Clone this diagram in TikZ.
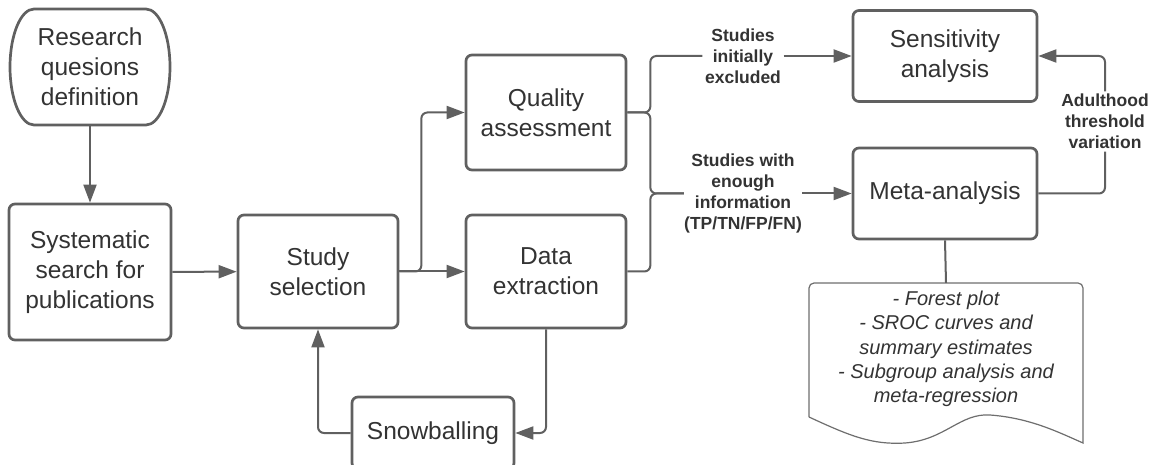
\documentclass[tikz,border=0pt]{standalone}
\usepackage{fontspec}
\setmainfont{Liberation Sans}
\usetikzlibrary{arrows.meta}
\definecolor{edge}{RGB}{96,96,96}
\definecolor{ink}{RGB}{51,51,51}
\definecolor{docedge}{RGB}{110,110,110}
\tikzset{
  box/.style={draw=edge, line width=2.7pt, rounded corners=6pt, fill=white,
    text=ink, align=center, inner sep=0pt,
    font=\fontsize{24.5}{30}\selectfont},
  startbox/.style={text=ink, align=center, inner sep=0pt,
    font=\fontsize{24.5}{30}\selectfont},
  startedge/.style={draw=edge, line width=2.7pt, fill=white},
  conn/.style={draw=edge, line width=2pt, rounded corners=6pt},
  arr/.style={conn, -{Triangle[length=18pt,width=13pt]}},
  lbl/.style={text=ink, align=center, inner sep=2.5pt,
    font=\fontsize{17.5}{21}\selectfont\bfseries},
  doctext/.style={text=ink, align=center, inner sep=0pt,
    font=\fontsize{20}{24.3}\selectfont\itshape}
}
\begin{document}
\begin{tikzpicture}[x=1pt, y=-1pt]
\useasboundingbox (0,0) rectangle (1157,465);
\clip (0,0) rectangle (1157,465);

% terminator with half-elliptical ends
\draw[startedge] (34,9) -- (146,9)
  arc[start angle=-90, end angle=90, x radius=24, y radius=58]
  -- (34,125)
  arc[start angle=90, end angle=270, x radius=24, y radius=58] -- cycle;
\node[startbox, minimum width=160pt, minimum height=116pt] (res) at (90,67) {Research\\quesions\\definition};

% process boxes
\node[box, minimum width=162pt, minimum height=136pt] (sys) at (90,272) {Systematic\\search for\\publications};
\node[box, minimum width=160pt, minimum height=113pt] (sel) at (318,271.5) {Study\\selection};
\node[box, minimum width=160pt, minimum height=115pt] (qa) at (546,112.5) {Quality\\assessment};
\node[box, minimum width=160pt, minimum height=113pt] (de) at (546,271.5) {Data\\extraction};
\node[box, minimum width=184pt, minimum height=91pt] (sens) at (945,56) {Sensitivity\\analysis};
\node[box, minimum width=184pt, minimum height=91pt] (meta) at (945,193.5) {Meta-analysis};
\node[box, minimum width=162pt, minimum height=72pt] (snow) at (433,433) {Snowballing};

% output document with wavy bottom edge
\draw[docedge, line width=1.2pt, fill=white, rounded corners=5pt]
  (809,417) -- (809,283) -- (1083,283) [sharp corners] -- (1083,443)
  .. controls (1058,432) and (1030,418) .. (990,415)
  .. controls (960,413) and (945,440) .. (905,443)
  .. controls (872,445) and (850,436) .. (809,417);
\node[doctext, minimum height=132pt] (doc) at (946,349)
  {- Forest plot\\- SROC curves and\\summary estimates\\- Subgroup analysis and\\meta-regression};

% connector labels
\node[lbl] (excl) at (743,56) {Studies\\initially\\excluded};
\node[lbl, inner sep=0pt] (info) at (743,193.5) {Studies with\\enough\\information\\(TP/TN/FP/FN)};
\node[lbl] (adult) at (1105,121.5) {Adulthood\\threshold\\variation};

% connectors
\draw[arr] (res) -- (sys);
\draw[arr] (sys) -- (sel);
\draw[arr] (sel.east) -- ++(22,0) |- (qa.west);
\draw[arr] (sel) -- (de);
\draw[conn] (qa.east) -- ++(23,0) |- (excl.west);
\draw[conn] (qa.east) -- ++(23,0) |- (info.west);
\draw[conn] (de.east) -- ++(23,0) |- (info.west);
\draw[arr] (excl.east) -- (sens.west);
\draw[arr] (info.east) -- (meta.west);
\draw[conn] (meta.east) -| (adult.south);
\draw[arr] (adult.north) |- (sens.east);
\draw[conn] (meta.south) -- (doc.north);
\draw[arr] (de.south) |- (snow.east);
\draw[arr] (snow.west) -| (sel.south);
\end{tikzpicture}
\end{document}
